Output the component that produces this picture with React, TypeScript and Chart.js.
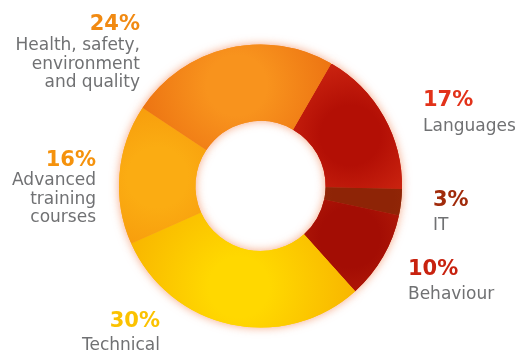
import React, { useEffect, useRef } from "react";
import { Chart, registerables } from "chart.js";

Chart.register(...registerables);

const categories = ["Languages", "IT", "Behaviour", "Technical", "Advanced training courses", "Health, safety, environment and quality"];
const values = [17, 3, 10, 30, 16, 24];
const labelLines = [["Languages"], ["IT"], ["Behaviour"], ["Technical"], ["Advanced", "training", "courses"], ["Health, safety,", "environment", "and quality"]];
const pctColors = ["#e2321a", "#a12b0b", "#c8220f", "#fbc200", "#f5920c", "#f18a12"];
const centerColors = ["#b30f05", "#8e2406", "#a30d04", "#ffd800", "#fbac12", "#f8931d"];
const edgeColors = ["#e3391b", "#a6320d", "#cc3210", "#f8b400", "#f38d06", "#e9690f"];

// label layout (x anchor, percent baseline, first label baseline, alignment)
const labelLayout = [
  { x: 423, py: 106, ly: 131, align: "left" },
  { x: 433, py: 206, ly: 230, align: "left" },
  { x: 408, py: 275, ly: 299, align: "left" },
  { x: 160, py: 327, ly: 350, align: "right" },
  { x: 96, py: 166, ly: 185, align: "right" },
  { x: 140, py: 30, ly: 50, align: "right" },
];

const ROTATION = 30;

export default function App() {
  const ref = useRef<HTMLCanvasElement>(null);
  useEffect(() => {
    const canvas = ref.current!;
    const total = values.reduce((a, b) => a + b, 0);

    const bg = (c: any) => {
      const i = c.dataIndex;
      const chart = c.chart;
      const area = chart.chartArea;
      const ctrl: any = chart.getDatasetMeta(0).controller;
      if (!area || !ctrl || !ctrl.outerRadius) return centerColors[i];
      const cx = (area.left + area.right) / 2 + (ctrl.offsetX || 0);
      const cy = (area.top + area.bottom) / 2 + (ctrl.offsetY || 0);
      const outer = ctrl.outerRadius;
      const inner = ctrl.innerRadius;
      let before = 0;
      for (let k = 0; k < i; k++) before += values[k];
      const mid = (ROTATION * Math.PI) / 180 - Math.PI / 2 + (2 * Math.PI * (before + values[i] / 2)) / total;
      const rm = (outer + inner) / 2;
      const gx = cx + Math.cos(mid) * rm;
      const gy = cy + Math.sin(mid) * rm;
      const g = chart.ctx.createRadialGradient(gx, gy, 0, gx, gy, outer * 0.85);
      g.addColorStop(0, centerColors[i]);
      g.addColorStop(0.25, centerColors[i]);
      g.addColorStop(1, edgeColors[i]);
      return g;
    };

    const glowPlugin = {
      id: "glow",
      beforeDatasetDraw(chart: any, args: any) {
        const ctx = chart.ctx;
        ctx.save();
        ctx.shadowColor = "rgba(238,105,45,0.6)";
        ctx.shadowBlur = 10;
        args.meta.controller.draw();
        ctx.restore();
      },
    };

    const labelPlugin = {
      id: "outLabels",
      afterDraw(chart: any) {
        const ctx = chart.ctx;
        ctx.save();
        values.forEach((v, i) => {
          const L = labelLayout[i];
          ctx.textAlign = L.align;
          ctx.textBaseline = "alphabetic";
          ctx.font = "bold 21px 'DejaVu Sans'";
          ctx.fillStyle = pctColors[i];
          ctx.fillText(v + "%", L.x, L.py);
          ctx.font = "17px 'DejaVu Sans'";
          ctx.fillStyle = "#707173";
          labelLines[i].forEach((line, j) => {
            ctx.fillText(line, L.x, L.ly + j * 18.5);
          });
        });
        ctx.restore();
      },
    };

    const chart = new Chart(canvas, {
      type: "doughnut",
      data: {
        labels: categories,
        datasets: [
          {
            data: values,
            backgroundColor: bg as any,
            borderWidth: 0,
            hoverOffset: 0,
          },
        ],
      },
      options: {
        responsive: false,
        animation: false,
        rotation: ROTATION,
        cutout: "46%",
        layout: { padding: { top: 44, bottom: 25, left: 119, right: 117 } },
        plugins: { legend: { display: false }, tooltip: { enabled: false } },
        events: [],
      },
      plugins: [glowPlugin, labelPlugin],
    });
    return () => chart.destroy();
  }, []);

  return (
    <div style={{ position: "fixed", left: 0, top: 0, width: 519, height: 353, background: "#fff" }}>
      <canvas ref={ref} width={519} height={353} />
    </div>
  );
}
